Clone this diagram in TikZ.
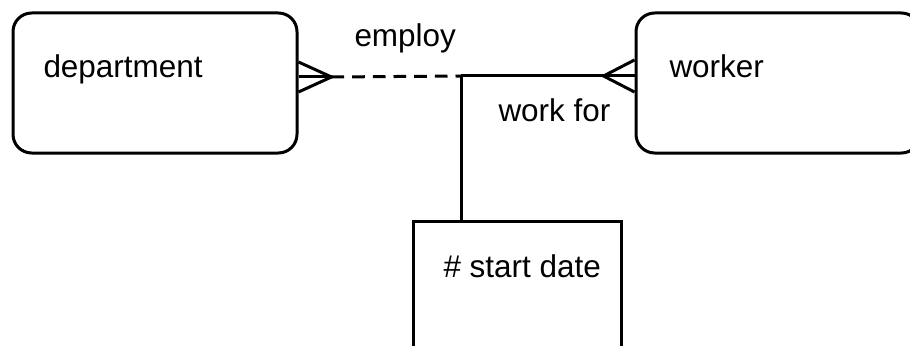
\documentclass[tikz,border=0pt]{standalone}
\usepackage{fontspec}
\setmainfont{Liberation Sans}
\usetikzlibrary{calc}
\begin{document}
\begin{tikzpicture}[x=0.75pt,y=-0.75pt,
  line width=2.25pt,
  entity/.style={draw, rounded corners=14pt, minimum width=213pt, minimum height=105pt, inner sep=0pt},
  attrbox/.style={draw, minimum width=156pt, minimum height=105pt, inner sep=0pt},
  lbl/.style={anchor=base west, inner sep=0pt, font=\fontsize{23.6}{28}\selectfont},
  rel/.style={line width=2.25pt},
  optional/.style={rel, dash pattern=on 9.5pt off 6pt}]
  \useasboundingbox (0,0) rectangle (910,346);
  \clip (0,0) rectangle (910,346);

  % entities and attribute box
  \node[entity] (dept) at (155,83) {};
  \node[entity] (worker) at (778,83) {};
  \node[attrbox] (attr) at (517,291) {};

  % labels
  \node[lbl] (tdept) at (42,78) {department};
  \node[lbl] (tworker) at (668,78) {worker};
  \node[lbl] (temploy) at (353,47) {employ};
  \node[lbl] (tworkfor) at (497,122) {work for};
  \node[lbl] (tattr) at (442,277) {\# start date};

  % crow's foot at department
  \coordinate (dmid) at (dept.east |- 0,77);
  \coordinate (dtop) at (dept.east |- 0,62);
  \coordinate (dbot) at (dept.east |- 0,92);
  \coordinate (dtip) at ($(dmid)+(33,0)$);
  \draw[rel, line join=miter] (dtop) -- (dtip) -- (dbot);
  \draw[rel] (dmid) -- (dtip);

  % crow's foot at worker
  \coordinate (wmid) at (worker.west |- 0,76);
  \coordinate (wtop) at (worker.west |- 0,60);
  \coordinate (wbot) at (worker.west |- 0,92);
  \coordinate (wtip) at ($(wmid)+(-31,0)$);
  \draw[rel, line join=miter] (wtop) -- (wtip) -- (wbot);
  \draw[rel] (wmid) -- (wtip);

  % relationship line and link to the attribute box
  \coordinate (junc) at (461,76);
  \draw[optional] (dtip) -- (junc);
  \draw[rel] (junc) -- (wtip);
  \draw[rel] (junc) -- (junc |- attr.north);
\end{tikzpicture}
\end{document}
